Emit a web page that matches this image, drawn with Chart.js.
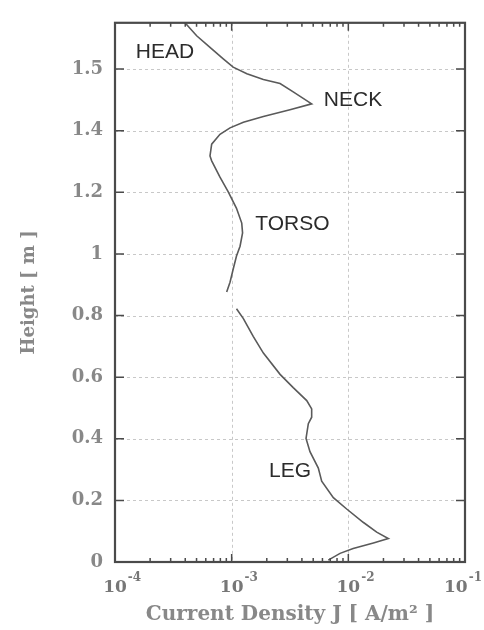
<!DOCTYPE html>
<html>
<head>
<meta charset="utf-8">
<script src="https://cdn.jsdelivr.net/npm/chart.js@4"></script>
<style>
  html, body { margin: 0; padding: 0; background: #fff; }
  #wrap { position: relative; width: 484px; height: 630px; }
</style>
</head>
<body>
<div id="wrap"><canvas id="c" width="484" height="630"></canvas></div>
<script>
// ---- data ----
const upperJ = [3.98e-4, 5.01e-4, 6.52e-4, 8.47e-4, 1.03e-3, 1.35e-3, 1.87e-3, 2.60e-3, 3.37e-3, 4.85e-3,
                3.16e-3, 1.87e-3, 1.26e-3, 9.68e-4, 7.94e-4, 6.74e-4, 6.52e-4, 6.74e-4, 7.94e-4, 9.35e-4,
                1.10e-3, 1.22e-3, 1.24e-3, 1.18e-3, 1.10e-3, 1.03e-3, 9.68e-4, 9.06e-4];
const upperH = [1.750, 1.708, 1.670, 1.633, 1.606, 1.585, 1.566, 1.553, 1.526, 1.487,
                1.468, 1.446, 1.427, 1.409, 1.388, 1.356, 1.318, 1.302, 1.249, 1.201,
                1.148, 1.100, 1.068, 1.025, 0.993, 0.950, 0.908, 0.876];
const legJ = [1.10e-3, 1.26e-3, 1.53e-3, 1.87e-3, 2.60e-3, 3.37e-3, 4.40e-3, 4.85e-3, 4.85e-3, 4.54e-3,
              4.34e-3, 4.69e-3, 5.53e-3, 5.91e-3, 7.44e-3, 9.68e-3, 1.34e-2, 1.75e-2, 2.20e-2, 1.64e-2,
              1.10e-2, 8.49e-3, 6.73e-3];
const legH = [0.822, 0.790, 0.732, 0.678, 0.609, 0.566, 0.524, 0.497, 0.470, 0.449,
              0.401, 0.358, 0.305, 0.262, 0.209, 0.172, 0.129, 0.097, 0.076, 0.062,
              0.044, 0.028, 0.006];

const regionNames = ['HEAD', 'NECK', 'TORSO', 'LEG'];
const regionJ = [2.68e-4, 1.096e-2, 3.32e-3, 3.16e-3];
const regionH = [1.653, 1.498, 1.096, 0.296];

const xTickValues = [1e-4, 1e-3, 1e-2, 1e-1];
const xTickBase = ['10', '10', '10', '10'];
const xTickExp = ['-4', '-3', '-2', '-1'];
const yTickValues = [0, 0.2, 0.4, 0.6, 0.8, 1.0, 1.2, 1.4, 1.6];
const yTickLabels = ['0', '0.2', '0.4', '0.6', '0.8', '1', '1.2', '1.4', '1.5'];

const xTitle = 'Current Density J [ A/m\u00B2 ]';
const yTitle = 'Height [ m ]';

// ---- styling ----
const SERIF = '"DejaVu Serif", serif';
const frameColor = '#4a4a4a';
const gridColor = '#c8c8c8';

const toPts = (xs, ys) => xs.map((x, i) => ({ x: x, y: ys[i] }));

const framePlugin = {
  id: 'frameAndLabels',
  beforeDatasetsDraw(chart) {
    const { ctx, chartArea: a, scales: { x, y } } = chart;
    ctx.save();
    ctx.strokeStyle = gridColor;
    ctx.lineWidth = 1;
    ctx.setLineDash([3, 3]);
    xTickValues.forEach(v => {
      const px = Math.round(x.getPixelForValue(v)) + 0.5;
      if (px < a.left + 2 || px > a.right - 2) return;
      ctx.beginPath(); ctx.moveTo(px, a.top); ctx.lineTo(px, a.bottom); ctx.stroke();
    });
    yTickValues.forEach(v => {
      const py = Math.round(y.getPixelForValue(v)) + 0.5;
      if (py < a.top + 2 || py > a.bottom - 2) return;
      ctx.beginPath(); ctx.moveTo(a.left, py); ctx.lineTo(a.right, py); ctx.stroke();
    });
    ctx.restore();
  },
  afterDraw(chart) {
    const { ctx, chartArea: a, scales: { x, y }, width } = chart;
    ctx.save();
    ctx.setLineDash([]);
    ctx.strokeStyle = frameColor;
    // ticks
    ctx.lineWidth = 1.5;
    yTickValues.forEach(v => {
      const py = y.getPixelForValue(v);
      ctx.beginPath();
      ctx.moveTo(a.left, py); ctx.lineTo(a.left + 9, py);
      ctx.moveTo(a.right, py); ctx.lineTo(a.right - 9, py);
      ctx.stroke();
    });
    for (let d = 0; d < xTickValues.length; d++) {
      const base = xTickValues[d];
      const px = x.getPixelForValue(base);
      ctx.beginPath();
      ctx.moveTo(px, a.bottom); ctx.lineTo(px, a.bottom - 8);
      ctx.moveTo(px, a.top); ctx.lineTo(px, a.top + 8);
      ctx.stroke();
      if (d < xTickValues.length - 1) {
        for (let m = 2; m <= 9; m++) {
          const mx = x.getPixelForValue(base * m);
          ctx.beginPath();
          ctx.moveTo(mx, a.bottom); ctx.lineTo(mx, a.bottom - 4);
          ctx.moveTo(mx, a.top); ctx.lineTo(mx, a.top + 4);
          ctx.stroke();
        }
      }
    }
    // frame
    ctx.lineWidth = 2.2;
    ctx.strokeRect(a.left, a.top, a.right - a.left, a.bottom - a.top);

    // x tick labels (10 with superscript exponent)
    ctx.fillStyle = '#777';
    ctx.textBaseline = 'alphabetic';
    ctx.textAlign = 'left';
    xTickValues.forEach((v, i) => {
      const px = x.getPixelForValue(v);
      ctx.font = 'bold 17px ' + SERIF;
      const w = ctx.measureText(xTickBase[i]).width;
      ctx.font = 'bold 12px ' + SERIF;
      const we = ctx.measureText(xTickExp[i]).width;
      let left = px - w / 2;
      const overflow = left + w + 1 + we - (width - 2);
      if (overflow > 0) left -= overflow;
      ctx.font = 'bold 17px ' + SERIF;
      ctx.fillText(xTickBase[i], left, 592);
      ctx.font = 'bold 12px ' + SERIF;
      ctx.fillText(xTickExp[i], left + w + 1, 581);
    });

    // region names
    ctx.fillStyle = '#2b2b2b';
    ctx.font = '21px "Liberation Sans", Arial, sans-serif';
    ctx.textAlign = 'center';
    ctx.textBaseline = 'middle';
    regionNames.forEach((n, i) => {
      ctx.fillText(n, x.getPixelForValue(regionJ[i]), y.getPixelForValue(regionH[i]));
    });
    ctx.restore();
  }
};

new Chart(document.getElementById('c'), {
  type: 'scatter',
  data: {
    datasets: [
      { data: toPts(upperJ, upperH), showLine: true, borderColor: '#5a5a5a', borderWidth: 1.6,
        pointRadius: 0, tension: 0, fill: false },
      { data: toPts(legJ, legH), showLine: true, borderColor: '#5a5a5a', borderWidth: 1.6,
        pointRadius: 0, tension: 0, fill: false }
    ]
  },
  options: {
    responsive: false,
    animation: false,
    events: [],
    layout: { padding: { left: 0, right: 19, top: 15, bottom: 0 } },
    plugins: { legend: { display: false }, tooltip: { enabled: false } },
    scales: {
      x: {
        type: 'logarithmic',
        min: 1e-4, max: 1e-1,
        grid: { display: false },
        border: { display: false },
        ticks: { display: false },
        afterBuildTicks: s => { s.ticks = xTickValues.map(v => ({ value: v })); },
        afterFit: s => { s.height = 68; },
        title: {
          display: true, text: xTitle, color: '#888',
          font: { family: SERIF, size: 20, weight: 'bold', lineHeight: 1 },
          padding: { top: 0, bottom: 5 }
        }
      },
      y: {
        type: 'linear',
        min: 0, max: 1.75,
        grid: { display: false, drawTicks: false },
        border: { display: false },
        afterBuildTicks: s => { s.ticks = yTickValues.map(v => ({ value: v })); },
        afterFit: s => { s.width = 115; },
        ticks: {
          padding: 12, color: '#888',
          font: { family: SERIF, size: 18, weight: 'bold' },
          callback: (v, i) => yTickLabels[i]
        },
        title: {
          display: true, text: yTitle, color: '#888',
          font: { family: SERIF, size: 18, weight: 'bold', lineHeight: 1.2 },
          padding: { top: 19, bottom: 0 }
        }
      }
    }
  },
  plugins: [framePlugin]
});
</script>
</body>
</html>
